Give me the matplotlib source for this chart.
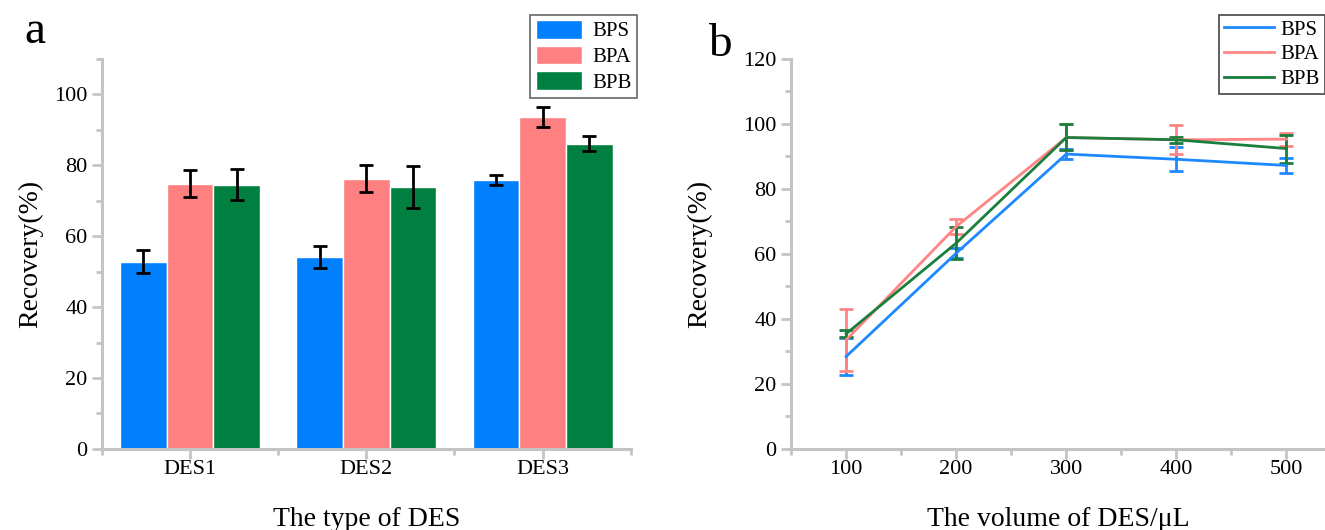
import numpy as np
import matplotlib
matplotlib.use("Agg")
import matplotlib.pyplot as plt
from matplotlib.ticker import MultipleLocator

plt.rcParams["font.family"] = ["Liberation Serif", "DejaVu Serif"]

# panel a: recovery for each DES type
des_types = ["DES1", "DES2", "DES3"]
series = ["BPS", "BPA", "BPB"]
bar_vals = {
    "BPS": [52.8, 54.0, 75.8],
    "BPA": [74.8, 76.2, 93.6],
    "BPB": [74.5, 73.8, 86.1],
}
bar_err = {
    "BPS": [3.2, 3.1, 1.5],
    "BPA": [3.8, 3.8, 2.8],
    "BPB": [4.4, 6.0, 2.2],
}

# panel b: recovery vs DES volume
volumes = [100, 200, 300, 400, 500]
line_vals = {
    "BPS": [28.4, 60.2, 90.7, 89.1, 87.2],
    "BPA": [33.5, 68.4, 95.8, 95.1, 95.3],
    "BPB": [35.4, 63.3, 95.8, 95.1, 92.4],
}
line_err = {
    "BPS": [5.8, 1.5, 1.5, 3.7, 2.3],
    "BPA": [9.5, 2.4, 4.0, 4.4, 2.0],
    "BPB": [1.1, 5.0, 4.0, 1.0, 4.3],
}

bar_colors = {"BPS": "#0080FF", "BPA": "#FF8080", "BPB": "#008040"}
line_colors = {"BPS": "#1E88FF", "BPA": "#FF8585", "BPB": "#1A7F3C"}
spine_c = "#C4C4C4"


def style_axes(ax):
    for s in ["top", "right"]:
        ax.spines[s].set_visible(False)
    for s in ["left", "bottom"]:
        ax.spines[s].set_color(spine_c)
        ax.spines[s].set_linewidth(2.2)
    ax.tick_params(which="both", color=spine_c, width=2, labelsize=16,
                   direction="out")
    ax.tick_params(which="major", length=7)
    ax.tick_params(which="minor", length=4)


fig = plt.figure(figsize=(13.25, 5.3), dpi=100)

# ---- panel a ----
ax1 = fig.add_axes([0.077, 0.153, 0.399, 0.736])
x = np.arange(len(des_types))
w = 0.265
for i, s in enumerate(series):
    ax1.bar(x + (i - 1) * w, bar_vals[s], w, color=bar_colors[s],
            edgecolor="white", linewidth=1, label=s,
            yerr=bar_err[s], capsize=5,
            error_kw=dict(ecolor="black", elinewidth=2, capthick=2))
ax1.set_xlim(-0.5, 2.5)
ax1.set_ylim(0, 110)
ax1.set_xticks(x)
ax1.set_xticklabels(des_types)
ax1.set_xticks([-0.5, 0.5, 1.5, 2.5], minor=True)
ax1.set_yticks(np.arange(0, 101, 20))
ax1.yaxis.set_minor_locator(MultipleLocator(10))
style_axes(ax1)
ax1.tick_params(axis="x", which="major", pad=1)
ax1.set_xlabel("The type of DES", fontsize=20, labelpad=20)
ax1.set_ylabel("Recovery(%)", fontsize=20, labelpad=8)
leg1 = ax1.legend(loc="upper right", bbox_to_anchor=(1.011, 1.113),
                  fontsize=15, fancybox=False, edgecolor="#666666",
                  framealpha=1, borderpad=0.25, labelspacing=0.2,
                  handlelength=2.2, handleheight=1.0, handletextpad=0.5,
                  borderaxespad=0)
leg1.get_frame().set_linewidth(1.2)
fig.text(0.026, 0.94, "a", fontsize=34, ha="center", va="center")

# ---- panel b ----
ax2 = fig.add_axes([0.597, 0.153, 0.403, 0.736])
for s in series:
    ax2.errorbar(volumes, line_vals[s], yerr=line_err[s],
                 color=line_colors[s], linewidth=2, capsize=5,
                 capthick=2, elinewidth=2)
    ax2.plot([], [], color=line_colors[s], linewidth=2, label=s)
ax2.set_xlim(50, 535)
ax2.set_ylim(0, 120)
ax2.set_xticks(volumes)
ax2.xaxis.set_minor_locator(MultipleLocator(50))
ax2.set_yticks(np.arange(0, 121, 20))
ax2.yaxis.set_minor_locator(MultipleLocator(10))
style_axes(ax2)
ax2.tick_params(axis="x", which="major", pad=1)
ax2.set_xlabel("The volume of DES/\u03bcL", fontsize=20, labelpad=20)
ax2.set_ylabel("Recovery(%)", fontsize=20, labelpad=22)
leg2 = ax2.legend(loc="upper right", bbox_to_anchor=(1.0, 1.113),
                  fontsize=15, fancybox=False, edgecolor="#444444",
                  framealpha=1, borderpad=0.25, labelspacing=0.25,
                  handlelength=2.4, handletextpad=0.3, borderaxespad=0)
leg2.get_frame().set_linewidth(1.2)
fig.text(0.543, 0.915, "b", fontsize=34, ha="center", va="center")

fig.savefig("out.png", dpi=100)
